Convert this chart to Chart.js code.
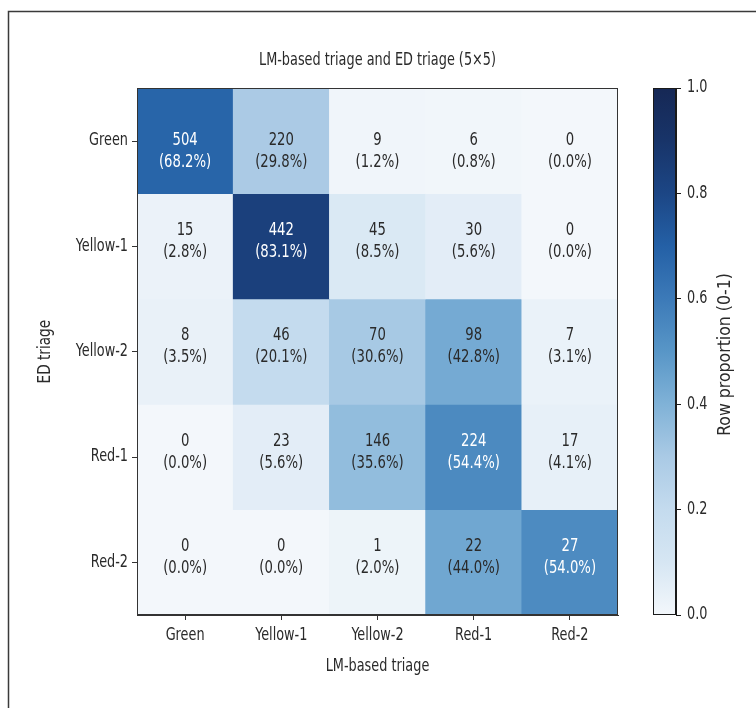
<!DOCTYPE html>
<html>
<head>
<meta charset="utf-8">
<script src="https://cdn.jsdelivr.net/npm/chart.js@4.4.1/dist/chart.umd.min.js"></script>
<style>
  html, body { margin: 0; padding: 0; background: #ffffff; }
  #wrap { position: relative; width: 756px; height: 708px; }
  #wrap canvas { position: absolute; left: 0; top: 0; }
</style>
</head>
<body>
<div id="wrap">
  <canvas id="heat" width="756" height="708"></canvas>
  <canvas id="cbar" width="756" height="708"></canvas>
</div>
<script>
// Categories
const lmTriage = ['Green', 'Yellow-1', 'Yellow-2', 'Red-1', 'Red-2'];   // columns
const edTriage = ['Green', 'Yellow-1', 'Yellow-2', 'Red-1', 'Red-2'];   // rows

// Counts per ED triage row
const countGreen   = [504, 220, 9, 6, 0];
const countYellow1 = [15, 442, 45, 30, 0];
const countYellow2 = [8, 46, 70, 98, 7];
const countRed1    = [0, 23, 146, 224, 17];
const countRed2    = [0, 0, 1, 22, 27];

// Row proportions (%) per ED triage row
const pctGreen   = [68.2, 29.8, 1.2, 0.8, 0.0];
const pctYellow1 = [2.8, 83.1, 8.5, 5.6, 0.0];
const pctYellow2 = [3.5, 20.1, 30.6, 42.8, 3.1];
const pctRed1    = [0.0, 5.6, 35.6, 54.4, 4.1];
const pctRed2    = [0.0, 0.0, 2.0, 44.0, 54.0];

// Colour bar ticks
const colorbarTicks = [0.0, 0.2, 0.4, 0.6, 0.8, 1.0];

const countRows = [countGreen, countYellow1, countYellow2, countRed1, countRed2];
const pctRows = [pctGreen, pctYellow1, pctYellow2, pctRed1, pctRed2];

const FONT = '"DejaVu Sans Condensed", "DejaVu Sans", sans-serif';
const INK = '#2a2a2a';
const NARROW = 0.84;   // horizontal text compression
Chart.defaults.font.family = FONT;
Chart.defaults.color = INK;

// Draw every text run on a canvas horizontally compressed (narrow lettering)
function narrowText(canvas, k) {
  const ctx = canvas.getContext('2d');
  const fill = ctx.fillText.bind(ctx);
  const measure = ctx.measureText.bind(ctx);
  ctx.plainFillText = fill;
  ctx.fillText = function (text, x, y, maxWidth) {
    this.save();
    this.translate(x, y);
    this.scale(k, 1);
    if (maxWidth === undefined || maxWidth === null) fill(text, 0, 0);
    else fill(text, 0, 0, maxWidth / k);
    this.restore();
  };
  ctx.measureText = function (text) {
    const m = measure(text);
    return {
      width: m.width * k,
      actualBoundingBoxAscent: m.actualBoundingBoxAscent,
      actualBoundingBoxDescent: m.actualBoundingBoxDescent,
      actualBoundingBoxLeft: m.actualBoundingBoxLeft * k,
      actualBoundingBoxRight: m.actualBoundingBoxRight * k,
      fontBoundingBoxAscent: m.fontBoundingBoxAscent,
      fontBoundingBoxDescent: m.fontBoundingBoxDescent
    };
  };
}

// Sequential blue colour map
const blueStops = [
  [0.0, [243, 247, 251]],
  [0.1, [214, 230, 243]],
  [0.2, [196, 219, 238]],
  [0.3, [170, 202, 229]],
  [0.4, [128, 178, 215]],
  [0.5, [ 88, 150, 199]],
  [0.6, [ 60, 122, 184]],
  [0.7, [ 36,  96, 166]],
  [0.8, [ 28,  70, 133]],
  [0.9, [ 24,  52, 105]],
  [1.0, [ 22,  40,  85]]
];
function blue(t) {
  t = Math.max(0, Math.min(1, t));
  for (let i = 1; i < blueStops.length; i++) {
    const [t1, c1] = blueStops[i];
    const [t0, c0] = blueStops[i - 1];
    if (t <= t1) {
      const f = (t - t0) / (t1 - t0);
      const c = c0.map((v, k) => Math.round(v + (c1[k] - v) * f));
      return `rgb(${c[0]},${c[1]},${c[2]})`;
    }
  }
  const c = blueStops[blueStops.length - 1][1];
  return `rgb(${c[0]},${c[1]},${c[2]})`;
}

// One dataset per ED row; each cell is a floating bar spanning [row, row + 1]
const datasets = edTriage.map((name, r) => ({
  label: name,
  data: lmTriage.map(() => [r, r + 1]),
  backgroundColor: pctRows[r].map(p => blue(p / 100)),
  borderWidth: 0,
  barPercentage: 1,
  categoryPercentage: 1,
  counts: countRows[r],
  pcts: pctRows[r]
}));

// Outer frame lines
const framePlugin = {
  id: 'frame',
  beforeDraw(chart) {
    const ctx = chart.ctx;
    ctx.save();
    ctx.strokeStyle = '#3a3a3a';
    ctx.lineWidth = 1.5;
    ctx.beginPath();
    ctx.moveTo(8.5, chart.height);
    ctx.lineTo(8.5, 11.5);
    ctx.lineTo(chart.width, 11.5);
    ctx.stroke();
    ctx.restore();
  }
};

// Count and percentage text inside each cell, plus the axes box
const cellTextPlugin = {
  id: 'cellText',
  afterDatasetsDraw(chart) {
    const ctx = chart.ctx;
    ctx.save();
    ctx.font = `17.5px ${FONT}`;
    ctx.textAlign = 'center';
    ctx.textBaseline = 'middle';
    chart.data.datasets.forEach((ds, r) => {
      const meta = chart.getDatasetMeta(r);
      meta.data.forEach((bar, c) => {
        const cx = bar.x;
        const cy = (bar.y + bar.base) / 2;
        const shift = r === 0 ? 15 : 0;   // top row text sits a little lower
        ctx.fillStyle = ds.pcts[c] > 50 ? '#ffffff' : INK;
        ctx.fillText(String(ds.counts[c]), cx, cy - 16 + shift);
        ctx.fillText(`(${ds.pcts[c].toFixed(1)}%)`, cx, cy + 6 + shift);
      });
    });
    const a = chart.chartArea;
    ctx.strokeStyle = '#333333';
    ctx.lineWidth = 1;
    ctx.strokeRect(Math.round(a.left) + 0.5, Math.round(a.top) + 0.5,
                   Math.round(a.right - a.left) - 1, Math.round(a.bottom - a.top) - 1);
    ctx.restore();
  }
};

const heatCanvas = document.getElementById('heat');
narrowText(heatCanvas, NARROW);

new Chart(heatCanvas, {
  type: 'bar',
  data: { labels: lmTriage, datasets },
  options: {
    responsive: false,
    animation: false,
    devicePixelRatio: 1,
    layout: { padding: { left: 32, right: 138, top: 40, bottom: 28 } },
    plugins: {
      legend: { display: false },
      tooltip: { enabled: false },
      title: {
        display: true,
        fullSize: false,
        text: 'LM-based triage and ED triage (5\u00D75)',
        color: INK,
        font: { size: 17, weight: 'normal' },
        padding: { top: 10, bottom: 18 }
      }
    },
    scales: {
      x: {
        type: 'category',
        position: 'bottom',
        stacked: true,
        offset: true,
        grid: { offset: false, drawOnChartArea: false, drawTicks: true, tickLength: 5, color: '#333333' },
        border: { display: true, color: '#333333' },
        ticks: { color: INK, font: { size: 17 }, padding: 5, maxRotation: 0, autoSkip: false },
        title: { display: true, text: 'LM-based triage', color: INK, font: { size: 17 }, padding: { top: 0, bottom: 3 } },
        afterFit(s) { s.height = 65; }
      },
      y: {
        type: 'linear',
        min: 0,
        max: 5,
        reverse: true,
        afterBuildTicks(s) { s.ticks = edTriage.map((_, i) => ({ value: i + 0.5 })); },
        grid: { drawOnChartArea: false, drawTicks: true, tickLength: 5, color: '#333333' },
        border: { display: true, color: '#333333' },
        ticks: { color: INK, font: { size: 17 }, padding: 4, callback: (v, i) => edTriage[i] },
        title: { display: true, text: 'ED triage', color: INK, font: { size: 18 }, padding: { top: 3, bottom: 0 } },
        afterFit(s) { s.width = 105; }
      }
    }
  },
  plugins: [framePlugin, cellTextPlugin]
});

// Colour bar
function barGradient(chart) {
  const a = chart.chartArea;
  if (!a) return blue(0.5);
  const g = chart.ctx.createLinearGradient(0, a.bottom, 0, a.top);
  blueStops.forEach(([t]) => g.addColorStop(t, blue(t)));
  return g;
}

const colorbarPlugin = {
  id: 'colorbarDecor',
  afterDraw(chart) {
    const ctx = chart.ctx;
    const a = chart.chartArea;
    ctx.save();
    ctx.strokeStyle = '#1a1a1a';
    ctx.lineWidth = 1;
    ctx.strokeRect(Math.round(a.left) + 0.5, Math.round(a.top) + 0.5,
                   Math.round(a.right - a.left) - 1, Math.round(a.bottom - a.top) - 1);
    ctx.translate(725, (a.top + a.bottom) / 2 + 3);
    ctx.rotate(-Math.PI / 2);
    ctx.font = `17.5px ${FONT}`;
    ctx.fillStyle = INK;
    ctx.textAlign = 'center';
    ctx.textBaseline = 'middle';
    ctx.plainFillText('Row proportion (0-1)', 0, 0);
    ctx.restore();
  }
};

const cbarCanvas = document.getElementById('cbar');
narrowText(cbarCanvas, NARROW);

new Chart(cbarCanvas, {
  type: 'bar',
  data: {
    labels: [''],
    datasets: [{
      data: [[0, 1]],
      backgroundColor: ctx => barGradient(ctx.chart),
      borderWidth: 0,
      barPercentage: 1,
      categoryPercentage: 1
    }]
  },
  options: {
    responsive: false,
    animation: false,
    devicePixelRatio: 1,
    layout: { padding: { left: 653, right: 40, top: 88, bottom: 93 } },
    plugins: { legend: { display: false }, tooltip: { enabled: false } },
    scales: {
      x: { display: false },
      y: {
        position: 'right',
        min: 0,
        max: 1,
        afterBuildTicks(s) { s.ticks = colorbarTicks.map(v => ({ value: v })); },
        grid: { drawOnChartArea: false, drawTicks: true, tickLength: 5, color: '#1a1a1a' },
        border: { display: true, color: '#1a1a1a' },
        ticks: { color: INK, font: { size: 17 }, padding: 6, callback: v => Number(v).toFixed(1) },
        afterFit(s) { s.width = 40; }
      }
    }
  },
  plugins: [colorbarPlugin]
});
</script>
</body>
</html>
